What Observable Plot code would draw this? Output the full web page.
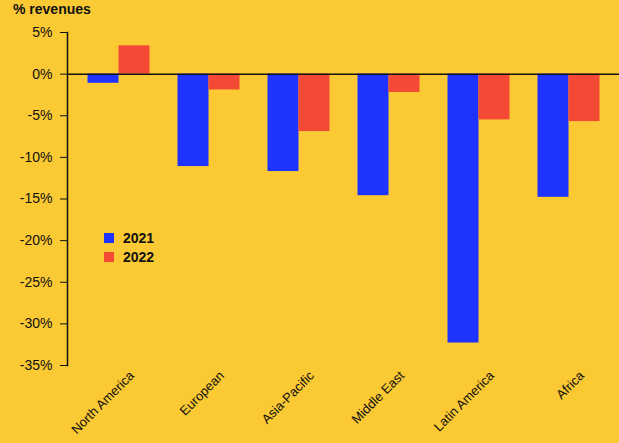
<!DOCTYPE html>
<html>
<head>
<meta charset="utf-8">
<script src="https://cdn.jsdelivr.net/npm/d3@7"></script>
<script src="https://cdn.jsdelivr.net/npm/@observablehq/plot@0.6"></script>
<style>
  html, body { margin: 0; padding: 0; background: #fbc933; }
  #wrap { position: relative; width: 619px; height: 443px; background: #fbc933; font-family: "Liberation Sans", Arial, sans-serif; color: #111; }
  #title { position: absolute; left: 13px; top: 1px; font-size: 14px; font-weight: bold; }
  .leg { position: absolute; left: 104px; font-size: 14px; font-weight: bold; display: flex; align-items: center; }
  .sw { width: 10px; height: 10px; margin-right: 9px; }
  svg { position: absolute; left: 0; top: 0; }
</style>
</head>
<body>
<div id="wrap">
  <div id="chart"></div>
  <div id="title">% revenues</div>
  <div id="legend"></div>
</div>
<script>
const regions = ["North America", "European", "Asia-Pacific", "Middle East", "Latin America", "Africa"];
const years = ["2021", "2022"];
const values2021 = [-1.1, -11.1, -11.7, -14.6, -32.3, -14.8];
const values2022 = [3.4, -1.9, -6.9, -2.2, -5.5, -5.7];
const yTicks = [5, 0, -5, -10, -15, -20, -25, -30, -35];
const colors = {"2021": "#1f33ff", "2022": "#f44a35"};

const rows2021 = regions.map((r, i) => ({region: r, year: "2021", value: values2021[i]}));
const rows2022 = regions.map((r, i) => ({region: r, year: "2022", value: values2022[i]}));

const chart = Plot.plot({
  width: 619,
  height: 443,
  marginLeft: 67,
  marginRight: 0,
  marginTop: 32,
  marginBottom: 78,
  style: {background: "transparent", fontFamily: "'Liberation Sans', Arial, sans-serif", color: "#111"},
  x: {domain: regions, paddingInner: 0.658, paddingOuter: 0.375, label: null},
  y: {domain: [-35, 5], label: null},
  marks: [
    Plot.barY(rows2021, {x: "region", y: "value", fill: colors["2021"], dx: -15.5}),
    Plot.barY(rows2022, {x: "region", y: "value", fill: colors["2022"], dx: 15.5}),
    Plot.ruleY([0], {stroke: "#111", strokeWidth: 1.5}),
    Plot.frame({anchor: "left", stroke: "#111", strokeWidth: 1.5}),
    Plot.axisY({ticks: yTicks, tickFormat: d => d + "%", tickSize: 7, tickPadding: 8, fontSize: 14, label: null, stroke: "#111"}),
    Plot.axisX({tickSize: 0, tickRotate: -45, tickPadding: 8, fontSize: 13, dx: 13, label: null})
  ]
});
document.getElementById("chart").appendChild(chart);

const legend = document.getElementById("legend");
years.forEach((y, i) => {
  const d = document.createElement("div");
  d.className = "leg";
  d.style.top = (230 + i * 19) + "px";
  d.innerHTML = `<span class="sw" style="background:${colors[y]}"></span><span>${y}</span>`;
  legend.appendChild(d);
});
</script>
</body>
</html>
